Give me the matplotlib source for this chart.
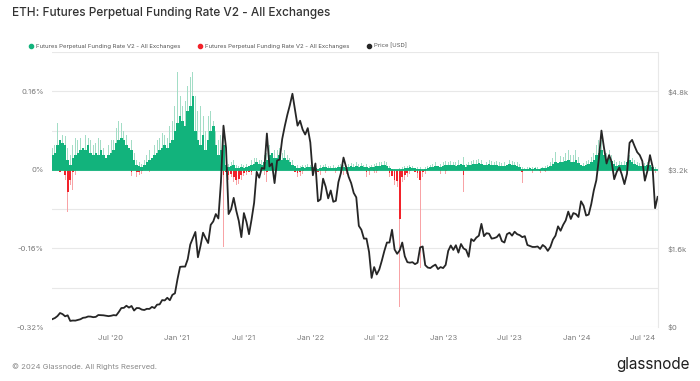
import numpy as np
import matplotlib
matplotlib.use("Agg")
import matplotlib.pyplot as plt
import matplotlib.dates as mdates
from matplotlib.lines import Line2D

plt.rcParams['font.family'] = ['Inter', 'DejaVu Sans']

# weekly samples starting 2020-01-25
start = np.datetime64('2020-01-25')

# funding rate (%), weekly typical level of the positive part
fund_pos = [
    0.03, 0.035, 0.05, 0.06, 0.055, 0.05, 0.02, 0.01, 0.025, 0.03, 0.035, 0.04,
    0.045, 0.04, 0.05, 0.035, 0.03, 0.035, 0.03, 0.04, 0.03, 0.025, 0.03, 0.035,
    0.04, 0.055, 0.06, 0.065, 0.06, 0.05, 0.045, 0.04, 0.02, 0.01, 0.008, 0.006,
    0.01, 0.015, 0.02, 0.025, 0.03, 0.035, 0.04, 0.045, 0.05, 0.045, 0.055, 0.06,
    0.08, 0.095, 0.11, 0.1, 0.09, 0.12, 0.13, 0.15, 0.08, 0.06, 0.05, 0.07,
    0.04, 0.06, 0.08, 0.09, 0.05, 0.03, 0.04, 0.05, 0.01, 0.005, 0.008, 0.01,
    0.004, 0.003, 0.005, 0.004, 0.006, 0.008, 0.01, 0.012, 0.015, 0.012, 0.01, 0.015,
    0.02, 0.03, 0.035, 0.025, 0.025, 0.03, 0.02, 0.025, 0.02, 0.015, 0.01, 0.008,
    0.004, 0.003, 0.005, 0.004, 0.006, 0.006, 0.005, 0.004, 0.002, 0.004, 0.005, 0.006,
    0.004, 0.003, 0.004, 0.003, 0.005, 0.006, 0.005, 0.004, 0.006, 0.007, 0.006, 0.008,
    0.006, 0.007, 0.005, 0.006, 0.003, 0.005, 0.006, 0.007, 0.008, 0.009, 0.01, 0.008,
    0.004, 0.002, 0.0, 0.0, 0.0, 0.002, 0.003, 0.004, 0.005, 0.004, 0.003, 0.002,
    0.002, 0.0, 0.002, 0.003, 0.005, 0.006, 0.008, 0.007, 0.006, 0.008, 0.01, 0.009,
    0.01, 0.009, 0.008, 0.01, 0.012, 0.01, 0.006, 0.009, 0.01, 0.012, 0.011, 0.013,
    0.012, 0.01, 0.009, 0.011, 0.01, 0.009, 0.01, 0.008, 0.007, 0.008, 0.01, 0.011,
    0.01, 0.009, 0.008, 0.006, 0.002, 0.001, 0.002, 0.003, 0.002, 0.003, 0.002, 0.002,
    0.003, 0.004, 0.005, 0.008, 0.012, 0.015, 0.014, 0.016, 0.015, 0.018, 0.02, 0.017,
    0.016, 0.02, 0.014, 0.01, 0.008, 0.01, 0.012, 0.016, 0.02, 0.03, 0.035, 0.04,
    0.03, 0.02, 0.025, 0.018, 0.012, 0.008, 0.01, 0.009, 0.01, 0.015, 0.02, 0.016,
    0.012, 0.01, 0.008, 0.007, 0.008, 0.009, 0.01, 0.006, 0.002,
]

# weekly highs of the positive part (%)
fund_pos_max = [
    0.045, 0.05, 0.095, 0.08, 0.07, 0.068, 0.045, 0.03, 0.05, 0.065, 0.06, 0.065,
    0.06, 0.07, 0.065, 0.06, 0.05, 0.055, 0.065, 0.06, 0.045, 0.04, 0.05, 0.06,
    0.06, 0.085, 0.1, 0.095, 0.08, 0.07, 0.065, 0.06, 0.035, 0.02, 0.015, 0.012,
    0.02, 0.03, 0.04, 0.045, 0.05, 0.06, 0.065, 0.075, 0.07, 0.065, 0.09, 0.1,
    0.13, 0.2, 0.15, 0.13, 0.14, 0.17, 0.19, 0.2, 0.15, 0.12, 0.13, 0.11,
    0.08, 0.11, 0.12, 0.1, 0.08, 0.06, 0.07, 0.09, 0.02, 0.012, 0.015, 0.02,
    0.01, 0.008, 0.012, 0.01, 0.012, 0.015, 0.02, 0.025, 0.025, 0.02, 0.02, 0.03,
    0.035, 0.05, 0.055, 0.04, 0.04, 0.045, 0.035, 0.04, 0.03, 0.025, 0.02, 0.015,
    0.01, 0.008, 0.01, 0.01, 0.012, 0.01, 0.01, 0.008, 0.006, 0.01, 0.01, 0.012,
    0.008, 0.008, 0.01, 0.006, 0.01, 0.012, 0.01, 0.008, 0.012, 0.014, 0.012, 0.015,
    0.012, 0.014, 0.01, 0.012, 0.008, 0.01, 0.012, 0.014, 0.015, 0.016, 0.018, 0.015,
    0.008, 0.004, 0.002, 0.0, 0.004, 0.006, 0.008, 0.008, 0.01, 0.008, 0.008, 0.006,
    0.006, 0.002, 0.006, 0.008, 0.01, 0.012, 0.016, 0.014, 0.012, 0.015, 0.018, 0.016,
    0.018, 0.016, 0.015, 0.02, 0.02, 0.027, 0.012, 0.016, 0.018, 0.02, 0.02, 0.022,
    0.02, 0.018, 0.016, 0.02, 0.018, 0.016, 0.018, 0.015, 0.014, 0.015, 0.018, 0.02,
    0.018, 0.016, 0.015, 0.012, 0.005, 0.003, 0.005, 0.006, 0.005, 0.006, 0.005, 0.004,
    0.006, 0.008, 0.01, 0.015, 0.025, 0.037, 0.024, 0.028, 0.026, 0.034, 0.04, 0.03,
    0.03, 0.04, 0.026, 0.018, 0.014, 0.018, 0.02, 0.026, 0.035, 0.05, 0.06, 0.06,
    0.05, 0.035, 0.04, 0.03, 0.02, 0.015, 0.018, 0.016, 0.018, 0.025, 0.03, 0.025,
    0.02, 0.016, 0.014, 0.012, 0.014, 0.015, 0.016, 0.012, 0.006,
]

# negative funding: week index, typical level and weekly low (%)
neg_week = [3, 5, 6, 7, 8, 9, 31, 33, 34, 35, 38, 53, 67, 68, 69, 70, 71, 72, 73, 74,
            75, 76, 77, 78, 83, 84, 95, 96, 97, 98, 103, 104, 105, 107, 111, 113, 114,
            115, 123, 124, 126, 127, 132, 133, 134, 135, 136, 137, 138, 139, 140, 142,
            143, 144, 145, 146, 152, 154, 161, 184, 188, 191, 193, 235, 236]
neg_mean = [-0.005, -0.01, -0.045, -0.02, -0.005, 0.0, -0.004, -0.005, -0.004, -0.002,
            0.0, 0.0, -0.01, -0.005, -0.01, -0.008, -0.015, -0.02, -0.018, -0.01,
            -0.006, -0.004, -0.004, -0.004, 0.0, -0.005, -0.004, -0.006, -0.005, -0.002,
            -0.002, -0.004, -0.003, -0.002, -0.002, -0.002, -0.003, -0.002, -0.004,
            -0.003, -0.002, -0.002, -0.006, -0.012, -0.02, -0.022, -0.1, -0.015, -0.01,
            -0.006, -0.003, -0.004, -0.006, -0.02, -0.004, -0.002, -0.002, -0.002,
            -0.01, -0.005, -0.002, -0.002, -0.002, -0.005, -0.002]
neg_min = [-0.047, -0.02, -0.086, -0.03, -0.04, -0.01, -0.012, -0.015, -0.01, -0.008,
           -0.005, -0.003, -0.158, -0.02, -0.02, -0.015, -0.025, -0.03, -0.028, -0.02,
           -0.012, -0.01, -0.01, -0.01, -0.01, -0.025, -0.012, -0.014, -0.012, -0.008,
           -0.008, -0.012, -0.01, -0.006, -0.006, -0.008, -0.01, -0.008, -0.014,
           -0.01, -0.006, -0.006, -0.015, -0.022, -0.03, -0.035, -0.28, -0.025, -0.02,
           -0.014, -0.008, -0.012, -0.016, -0.2, -0.014, -0.008, -0.008, -0.008,
           -0.045, -0.027, -0.006, -0.006, -0.005, -0.01, -0.006]

# ETH price (USD), weekly
price = [
    160, 183, 223, 285, 262, 218, 238, 124, 132, 130, 144, 158,
    187, 194, 214, 212, 200, 206, 244, 241, 238, 229, 221, 229,
    242, 236, 305, 386, 390, 433, 395, 428, 335, 387, 384, 355,
    346, 370, 368, 409, 386, 455, 461, 548, 541, 595, 545, 655,
    686, 975, 1225, 1230, 1230, 1380, 1680, 1810, 1935, 1420, 1650, 1920,
    1810, 1710, 2080, 2150, 2300, 2210, 2950, 4100, 3650, 2300, 2400, 2630,
    2370, 2160, 1830, 2320, 2140, 1890, 2190, 2530, 3160, 3040, 3240, 3220,
    3940, 3270, 3330, 2930, 3390, 3410, 3830, 4090, 4320, 4520, 4750, 4420,
    4100, 4200, 4020, 3920, 4050, 3760, 3090, 3330, 2560, 2600, 3020, 2860,
    2620, 2780, 2550, 2570, 2950, 3140, 3450, 3260, 3060, 2930, 2730, 2640,
    2060, 1980, 1800, 1800, 1530, 1000, 1220, 1070, 1170, 1350, 1550, 1720,
    1720, 1980, 1580, 1490, 1560, 1720, 1440, 1320, 1310, 1320, 1280, 1310,
    1620, 1640, 1260, 1210, 1200, 1240, 1270, 1180, 1220, 1200, 1265, 1550,
    1660, 1570, 1665, 1515, 1690, 1600, 1570, 1430, 1790, 1750, 1820, 1860,
    2100, 1850, 1910, 1900, 1800, 1810, 1830, 1890, 1750, 1720, 1890, 1920,
    1860, 1940, 1890, 1870, 1830, 1850, 1670, 1650, 1630, 1630, 1640, 1590,
    1670, 1630, 1550, 1630, 1780, 1860, 2050, 1960, 2080, 2170, 2350, 2200,
    2320, 2300, 2240, 2560, 2470, 2270, 2290, 2500, 2780, 2990, 3430, 4000,
    3650, 3330, 3500, 3360, 3010, 3160, 3250, 3100, 2910, 3120, 3750, 3810,
    3680, 3560, 3500, 3380, 2980, 3180, 3500, 3270, 2420, 2650,
]

x_ticks = ['2020-07-01', '2021-01-01', '2021-07-01', '2022-01-01', '2022-07-01',
           '2023-01-01', '2023-07-01', '2024-01-01', '2024-07-01']
left_ticks = [0.16, 0, -0.16, -0.32]
left_labels = ['0.16%', '0%', '-0.16%', '-0.32%']
right_ticks = [0, 1600, 3200, 4800]
right_labels = ['$0', '$1.6k', '$3.2k', '$4.8k']

GREEN = '#12b37c'
GREEN_L = '#a3ddc6'
RED = '#f2222a'
RED_L = '#f8a3a6'
GRID = '#e8e8e8'
TXT = '#7a7a7a'

wk = start + 7 * np.arange(len(fund_pos))
pwk = start + 7 * np.arange(len(price))
nwk = start + 7 * np.array(neg_week)

fig = plt.figure(figsize=(7, 3.81), dpi=100)
ax = fig.add_axes([52/700, 1-327/381, 606/700, 275/381])
ax2 = ax.twinx()

ax.bar(wk, fund_pos_max, width=2.5, color=GREEN_L, linewidth=0)
ax.bar(wk, fund_pos, width=7, color=GREEN, linewidth=0)
ax.bar(nwk, neg_min, width=2.5, color=RED_L, linewidth=0)
ax.bar(nwk, neg_mean, width=5, color=RED, linewidth=0)
ax.axhline(0, color=GREEN, lw=1.3, zorder=3)

ax2.plot(pwk, price, color='#262626', lw=1.3, solid_joinstyle='round')

ax.set_ylim(-0.32, 0.24)
ax2.set_ylim(0, 5600)
ax.set_xlim(np.datetime64('2020-01-24'), np.datetime64('2024-08-11'))

for v in np.arange(-0.32, 0.25, 0.08):
    ax.axhline(v, color=GRID, lw=0.8, zorder=0)

ax.set_yticks(left_ticks)
ax.set_yticklabels(left_labels)
ax2.set_yticks(right_ticks)
ax2.set_yticklabels(right_labels)
ax.set_xticks([np.datetime64(d) for d in x_ticks])
ax.xaxis.set_major_formatter(mdates.DateFormatter("%b '%y"))

for a in (ax, ax2):
    a.tick_params(length=0, labelsize=5.5, labelcolor=TXT, pad=8)
    for s in a.spines.values():
        s.set_visible(False)
ax.tick_params(axis='y', pad=6)
ax.tick_params(axis='x', pad=6)
ax2.tick_params(axis='y', pad=7)
ax2.spines['right'].set_visible(True)
ax2.spines['right'].set_color(GRID)
ax2.spines['right'].set_linewidth(0.8)

fig.text(12/700, 1-13/381, 'ETH: Futures Perpetual Funding Rate V2 - All Exchanges',
         fontsize=8.5, color='#333333', va='center', ha='left', fontweight='medium')

handles = [Line2D([], [], marker='o', ls='', color=GREEN, markersize=3),
           Line2D([], [], marker='o', ls='', color=RED, markersize=3),
           Line2D([], [], marker='o', ls='', color='#262626', markersize=3)]
names = ['Futures Perpetual Funding Rate V2 - All Exchanges',
         'Futures Perpetual Funding Rate V2 - All Exchanges', 'Price [USD]']
fig.legend(handles, names, loc='center left', bbox_to_anchor=(24/700, 1-46/381),
           ncol=3, frameon=False, fontsize=4.3, labelcolor='#555555',
           handlelength=0.6, handletextpad=0.5, columnspacing=3.0)

fig.text(12/700, 1-367/381, '\u00a9 2024 Glassnode. All Rights Reserved.',
         fontsize=5.5, color='#8a8a8a', va='center', ha='left')
fig.text(690/700, 1-364/381, 'glassnode', fontsize=11, color='#1e1e1e',
         va='center', ha='right')

fig.savefig('out.png', dpi=100)
